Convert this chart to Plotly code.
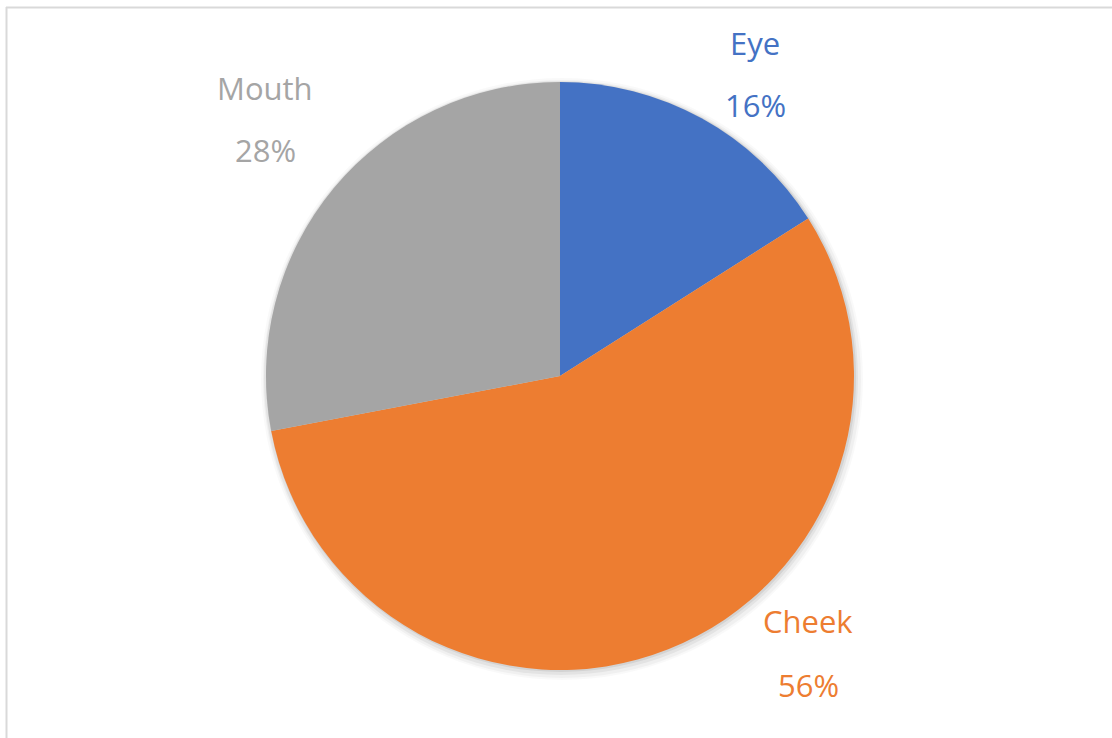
import plotly.graph_objects as go

# Share of detections by facial region
regions = ["Eye", "Cheek", "Mouth"]
shares = [16, 56, 28]
colors = ["#4472C4", "#ED7D31", "#A5A5A5"]

W, H = 1112, 738
cx, cy, r = 560, 376, 294


def dom(cx, cy, r):
    return dict(x=[(cx - r) / W, (cx + r) / W], y=[1 - (cy + r) / H, 1 - (cy - r) / H])


fig = go.Figure()

# soft drop shadow under the pie
for dr, dx, dy, a in [(7, 2, 3, 0.025), (5, 2, 3, 0.035), (3, 1, 2, 0.05), (1, 1, 1, 0.07)]:
    fig.add_trace(go.Pie(
        values=[1], labels=["s"], sort=False, textinfo="none", hoverinfo="skip",
        marker=dict(colors=[f"rgba(0,0,0,{a})"], line=dict(width=0)),
        domain=dom(cx + dx, cy + dy, r + dr), showlegend=False,
    ))

fig.add_trace(go.Pie(
    labels=regions, values=shares, sort=False, direction="clockwise", rotation=0,
    marker=dict(colors=colors, line=dict(width=0)),
    textinfo="none", showlegend=False, domain=dom(cx, cy, r),
))

total = sum(shares)
label_pos = {"Eye": (755, 43, 105), "Cheek": (808, 621, 685), "Mouth": (265, 88, 150)}
annotations = []
for name, val, col in zip(regions, shares, colors):
    x, y1, y2 = label_pos[name]
    for txt, yy in [(name, y1), (f"{round(val / total * 100)}%", y2)]:
        annotations.append(dict(
            text=txt, x=x / W, y=1 - yy / H, xref="paper", yref="paper",
            xanchor="center", yanchor="middle", showarrow=False,
            font=dict(family="Open Sans", size=31, color=col),
        ))

shapes = [
    dict(type="line", xref="paper", yref="paper", x0=6.5 / W, x1=6.5 / W, y0=1 - 7 / H, y1=-0.05,
         line=dict(color="#d9d9d9", width=2)),
    dict(type="line", xref="paper", yref="paper", x0=6 / W, x1=1.05, y0=1 - 7.5 / H, y1=1 - 7.5 / H,
         line=dict(color="#d9d9d9", width=2)),
]

fig.update_layout(
    width=W, height=H, margin=dict(l=0, r=0, t=0, b=0),
    paper_bgcolor="white", plot_bgcolor="white",
    annotations=annotations, shapes=shapes,
)

fig.write_html("out.html")
